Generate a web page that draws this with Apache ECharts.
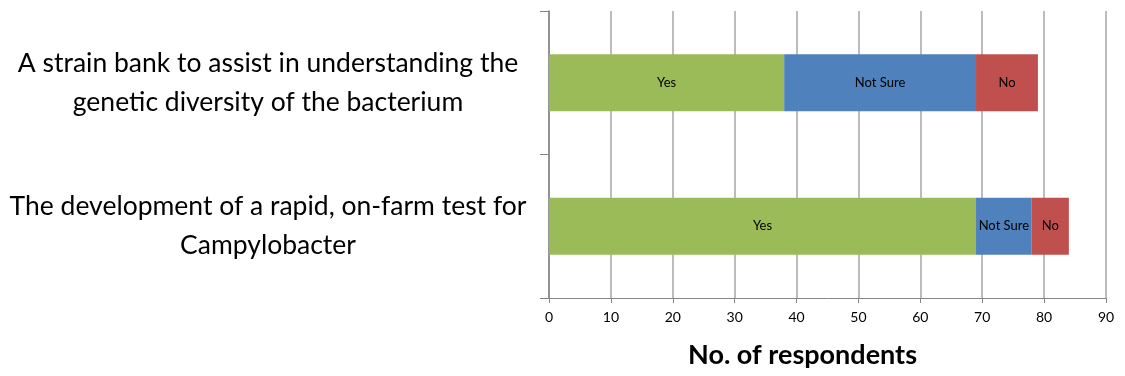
<!DOCTYPE html>
<html>
<head>
<meta charset="utf-8">
<script src="https://cdn.jsdelivr.net/npm/echarts@6/dist/echarts.min.js"></script>
<style>
  body { margin: 0; background: #fff; }
  #chart { width: 1125px; height: 376px; }
</style>
</head>
<body>
<div id="chart"></div>
<script>
const categories = [
  "A strain bank to assist in understanding the\ngenetic diversity of the bacterium",
  "The development of a rapid, on-farm test for\nCampylobacter"
];
const yesValues = [38, 69];
const notSureValues = [31, 9];
const noValues = [10, 6];
const xTicks = [0, 10, 20, 30, 40, 50, 60, 70, 80, 90];

const chart = echarts.init(document.getElementById("chart"));

function barSeries(name, values, color) {
  return {
    name: name,
    type: "bar",
    stack: "total",
    barWidth: 57,
    data: values,
    itemStyle: { color: color },
    label: {
      show: true,
      position: "inside",
      formatter: name,
      color: "#000",
      fontSize: 13,
      fontFamily: "Lato"
    }
  };
}

chart.setOption({
  animation: false,
  grid: { left: 549, right: 19, top: 11, bottom: 78 },
  xAxis: {
    type: "value",
    min: xTicks[0],
    max: xTicks[xTicks.length - 1],
    interval: 10,
    name: "No. of respondents",
    nameLocation: "middle",
    nameGap: 44,
    nameTextStyle: {
      fontSize: 27,
      fontWeight: "bold",
      fontFamily: "Lato",
      color: "#000",
      padding: [0, 50, 0, 0]
    },
    axisLine: { show: true, lineStyle: { color: "#868686" } },
    axisTick: { show: true, length: 5, lineStyle: { color: "#868686" } },
    axisLabel: { color: "#000", fontSize: 14, fontFamily: "Lato", margin: 12 },
    splitLine: { show: true, lineStyle: { color: "#a6a6a6", width: 1.5 } }
  },
  yAxis: {
    type: "category",
    inverse: true,
    data: categories,
    axisLine: { show: true, lineStyle: { color: "#868686", width: 1.5 } },
    axisTick: { show: true, length: 9, lineStyle: { color: "#868686" } },
    axisLabel: {
      align: "center",
      margin: 281,
      fontSize: 26.5,
      lineHeight: 39,
      fontFamily: "Lato",
      color: "#000"
    }
  },
  series: [
    barSeries("Yes", yesValues, "#9BBB59"),
    barSeries("Not Sure", notSureValues, "#4F81BD"),
    barSeries("No", noValues, "#C0504D")
  ]
});
</script>
</body>
</html>
